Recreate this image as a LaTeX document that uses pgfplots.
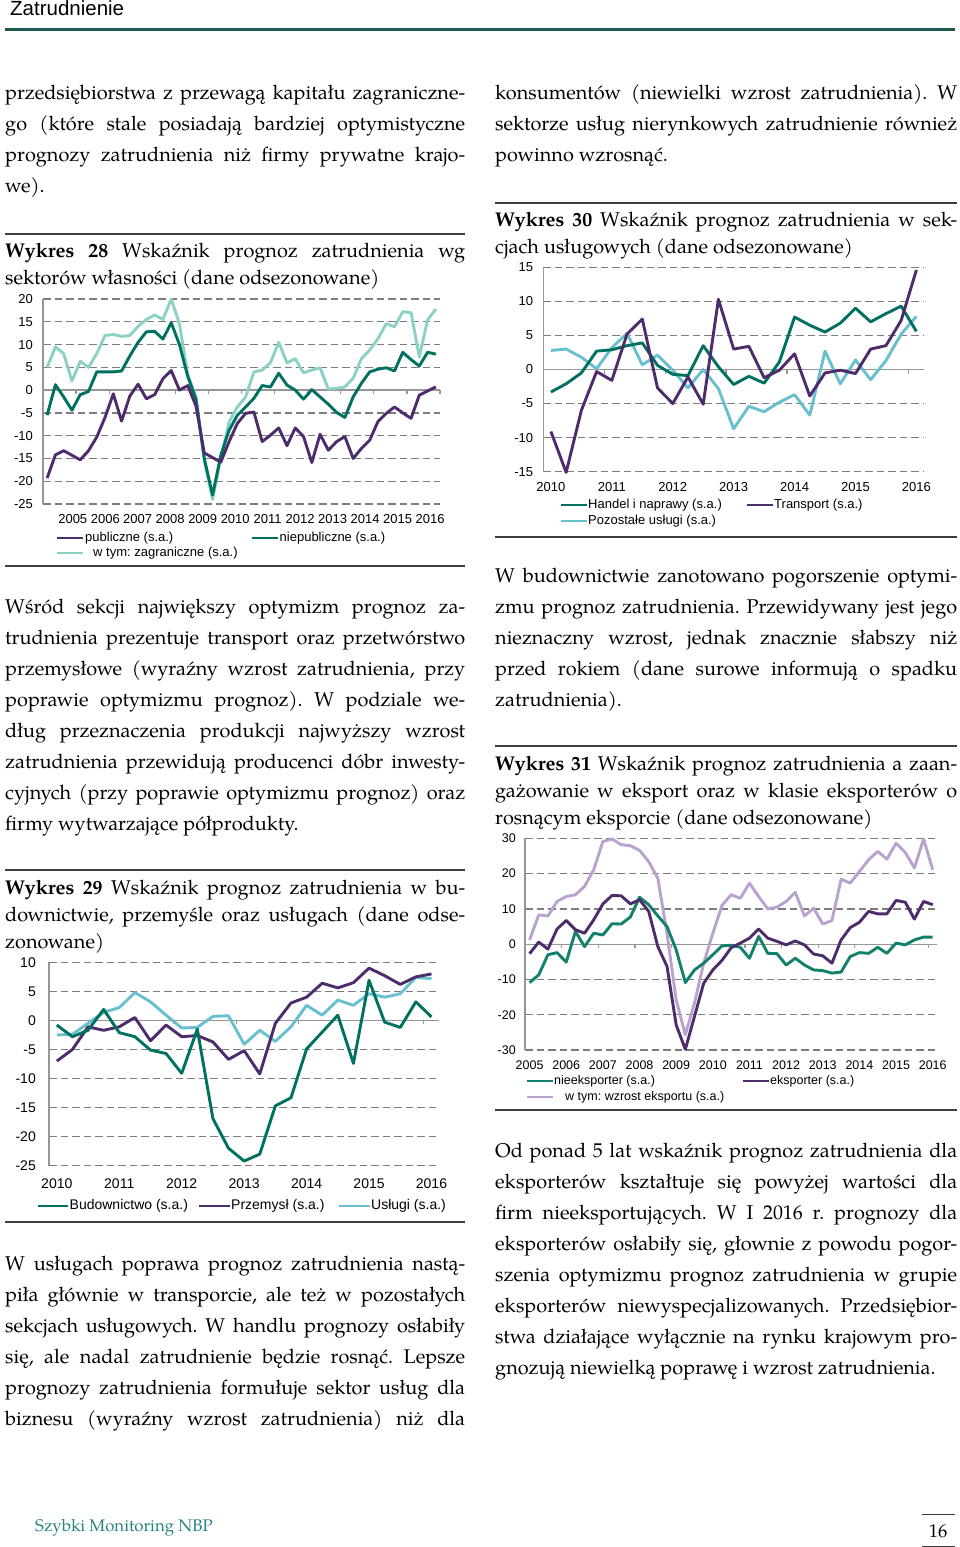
\documentclass[border=0pt]{standalone}
\usepackage{fontspec}
\setmainfont{TeX Gyre Pagella}
\newfontfamily\cf{Liberation Sans}
\usepackage{pgfplots}
\usepackage{pgfplotstable}
\pgfplotsset{compat=1.18}
\frenchspacing
\definecolor{cpur}{RGB}{78,44,108}
\definecolor{cteal}{RGB}{0,112,96}
\definecolor{cteal2}{RGB}{18,128,108}
\definecolor{cltl}{RGB}{140,210,196}
\definecolor{cblu}{RGB}{104,192,206}
\definecolor{clav}{RGB}{186,162,206}
\definecolor{cgrid}{RGB}{125,125,125}
\definecolor{caxis}{RGB}{150,150,150}
\definecolor{chead}{RGB}{28,90,82}
\definecolor{cfoot}{RGB}{40,130,130}
\definecolor{crule}{RGB}{60,60,60}

\newcommand{\bt}{\fontsize{19.9}{22}\selectfont\frenchspacing}
\newcommand{\JL}[4]{\node[anchor=base west,inner sep=0pt] at (#1pt,-#2pt) {\bt\makebox[#3pt][s]{#4}};}
\newcommand{\LL}[3]{\node[anchor=base west,inner sep=0pt] at (#1pt,-#2pt) {\bt #3};}
\newcommand{\LGL}[4]{\draw[#1,line width=2.4pt] (#2pt,-#4pt) -- (#3pt,-#4pt);}
\newcommand{\LGT}[4]{\node[anchor=west,inner sep=0pt] at (#1pt,-#2pt) {\cf\fontsize{#3}{#3}\selectfont #4};}

\pgfplotsset{
 pagechart/.style={
  scale only axis,
  axis line style={draw=none},
  major tick length=0pt,
  ymajorgrids,
  grid style={cgrid, line width=1.3pt, dash pattern=on 7.5pt off 4pt},
  yticklabel style={anchor=east, inner sep=0pt},
  xticklabel style={anchor=center, inner sep=0pt},
  clip=false,
  every axis plot/.append style={line width=2.9pt, line join=round, mark=none},
 }
}

\pgfplotstableread{
i pub niep zag
0 -19.3 -5.5 5.0
1 -14.2 1.2 9.5
2 -13.3 -1.5 8.0
3 -14.3 -4.4 2.0
4 -15.3 -1.0 6.3
5 -13.3 -0.3 5.0
6 -10.3 4.0 8.0
7 -6.0 4.0 12.0
8 -0.8 4.0 12.2
9 -6.8 4.2 11.8
10 -1.3 7.5 12.0
11 1.3 10.5 14.0
12 -1.9 12.8 15.5
13 -1.0 12.9 16.5
14 2.5 11.2 15.5
15 4.3 14.8 20.0
16 0.0 10.0 14.5
17 1.0 3.0 3.5
18 -3.5 -2.0 -1.5
19 -13.8 -15.0 -15.5
20 -14.8 -23.0 -24.0
21 -15.8 -14.3 -15.0
22 -11.3 -8.8 -7.0
23 -7.3 -5.5 -3.7
24 -5.1 -3.7 -1.5
25 -4.8 -1.8 4.0
26 -11.3 1.0 4.4
27 -9.9 0.7 6.0
28 -8.3 3.7 10.5
29 -12.2 1.1 6.0
30 -8.3 0.0 6.9
31 -10.2 -2.0 3.8
32 -15.9 0.1 4.4
33 -9.7 -1.5 4.9
34 -13.2 -3.1 0.2
35 -11.3 -4.9 0.4
36 -10.2 -6.0 0.7
37 -15.0 -1.5 2.6
38 -12.8 1.5 6.9
39 -11.0 4.0 8.8
40 -6.9 4.6 11.3
41 -5.1 4.9 14.6
42 -3.7 4.2 13.9
43 -5.0 8.3 17.2
44 -6.2 6.7 17.0
45 -1.1 5.3 7.3
46 -0.2 8.3 15.4
47 0.7 7.9 17.8
}\dA

\pgfplotstableread{
i bud prz usl
0 -0.8 -7.0 -2.5
1 -2.8 -5.0 -2.4
2 -1.7 -1.1 -0.5
3 1.9 -1.7 1.4
4 -2.1 -1.1 2.2
5 -2.8 0.5 4.8
6 -5.1 -3.5 3.2
7 -5.7 -0.8 0.9
8 -9.1 -2.8 -1.3
9 -1.5 -2.6 -1.2
10 -16.9 -3.7 0.7
11 -22.0 -6.7 0.8
12 -24.2 -5.2 -4.1
13 -23.0 -9.2 -1.7
14 -14.7 -0.5 -3.6
15 -13.3 3.0 -1.1
16 -4.9 4.0 2.6
17 -2.0 6.4 0.9
18 0.9 5.6 3.5
19 -7.4 6.5 2.6
20 6.9 9.0 4.6
21 -0.3 7.7 4.0
22 -1.2 6.2 4.6
23 3.2 7.5 7.4
24 0.6 8.0 7.2
}\dB

\pgfplotstableread{
i han tra poz
0 -3.3 -9.1 2.8
1 -2.1 -15.1 3.0
2 -0.5 -6.0 1.8
3 2.7 -0.3 0.1
4 2.9 -1.6 3.2
5 3.5 5.2 5.3
6 3.9 7.4 0.7
7 0.6 -2.7 2.1
8 -0.7 -5.0 -0.1
9 -0.9 -1.1 -2.7
10 3.5 -5.1 0.0
11 0.4 10.3 -2.8
12 -2.2 3.0 -8.7
13 -1.0 3.4 -5.4
14 -2.0 -1.2 -6.2
15 1.1 -0.1 -4.8
16 7.7 2.3 -3.7
17 6.5 -3.9 -6.7
18 5.5 -0.5 2.7
19 6.8 -0.1 -2.1
20 9.0 -0.6 1.4
21 7.0 3.0 -1.5
22 8.2 3.5 1.3
23 9.3 7.2 5.2
24 5.6 14.6 7.8
}\dC

\pgfplotstableread{
i nie eks wzr
0 -10.9 -2.7 1.2
1 -8.7 0.6 8.3
2 -3.0 -1.4 8.0
3 -2.4 4.3 12.1
4 -5.1 6.7 13.5
5 3.6 4.1 14.0
6 -0.7 3.1 16.4
7 3.1 6.9 21.1
8 2.6 11.4 29.1
9 5.8 13.8 29.8
10 5.7 13.7 28.2
11 7.7 11.4 27.9
12 13.3 12.6 26.6
13 11.2 9.3 23.4
14 8.0 -0.7 18.7
15 5.0 -6.3 3.0
16 -1.6 -22.9 -15.8
17 -10.9 -29.8 -25.7
18 -7.3 -20.5 -16.7
19 -5.4 -11.1 -5.4
20 -3.0 -7.3 3.1
21 -0.5 -4.6 11.0
22 -0.3 -1.0 14.0
23 -0.9 0.3 13.0
24 -4.0 1.7 17.3
25 2.2 4.3 13.5
26 -2.6 1.7 10.0
27 -2.7 0.8 10.5
28 -5.9 -0.2 12.1
29 -4.0 0.9 14.7
30 -5.9 -0.2 8.0
31 -7.3 -2.8 10.2
32 -7.5 -3.3 5.7
33 -8.2 -5.4 6.7
34 -7.9 1.2 18.4
35 -3.5 4.7 17.3
36 -2.4 6.2 20.6
37 -2.6 9.3 23.9
38 -0.9 8.6 26.3
39 -2.6 8.6 24.1
40 0.3 12.4 28.6
41 -0.2 11.9 26.0
42 1.2 7.1 21.6
43 2.0 12.1 29.8
44 2.0 11.2 21.1
}\dD

\begin{document}
\begin{tikzpicture}
\useasboundingbox (0pt,0pt) rectangle (960pt,-1547pt);
\fill[white] (0pt,0pt) rectangle (960pt,-1547pt);

% header
\node[anchor=base west,inner sep=0pt] at (10pt,-16pt) {\cf\fontsize{20.5}{22}\selectfont Zatrudnienie};
\draw[chead,line width=3pt] (5pt,-29pt) -- (955pt,-29pt);

% ---------------- left column ----------------
\JL{5}{99}{460}{przedsiębiorstwa z przewagą kapitału zagraniczne-}
\JL{5}{130}{460}{go (które stale posiadają bardziej optymistyczne}
\JL{5}{161}{460}{prognozy zatrudnienia niż firmy prywatne krajo-}
\LL{5}{192}{we).}

\draw[crule,line width=1.2pt] (5pt,-234pt) -- (465pt,-234pt);
\JL{5}{257}{460}{\textbf{Wykres 28} Wskaźnik prognoz zatrudnienia wg}
\LL{5}{284}{sektorów własności (dane odsezonowane)}

\begin{axis}[pagechart, at={(43pt,-504pt)}, anchor=south west, width=397pt, height=205pt,
 xmin=-0.5, xmax=47.5, ymin=-25, ymax=20,
 ytick={-25,-20,-15,-10,-5,0,5,10,15,20}, yticklabels={-25,-20,-15,-10,-5,0,5,10,15,20},
 xtick={3.1,7.03,10.95,14.88,18.81,22.74,26.66,30.59,34.52,38.44,42.37,46.3},
 xticklabels={2005,2006,2007,2008,2009,2010,2011,2012,2013,2014,2015,2016},
 tick label style={font=\cf\fontsize{13}{15}\selectfont},
 yticklabel style={xshift=-10pt}, xticklabel style={yshift=-15pt}]
\draw[caxis,line width=1.3pt] (axis cs:-0.5,0) -- (axis cs:47.5,0);
\draw[caxis,line width=1.3pt] (axis cs:-0.5,-25) -- (axis cs:-0.5,20);
\pgfplotsinvokeforeach{3.5,7.5,11.5,15.5,19.5,23.5,27.5,31.5,35.5,39.5,43.5,47.5}{\draw[caxis,line width=1.2pt] (axis cs:#1,0) -- ++(0pt,-4pt);}
\addplot[cltl] table[x=i,y=zag]{\dA};
\addplot[cteal] table[x=i,y=niep]{\dA};
\addplot[cpur] table[x=i,y=pub]{\dA};
\end{axis}
\LGL{cpur}{57}{83}{538}\LGT{85}{538}{13}{publiczne (s.a.)}
\LGL{cteal}{252}{278}{538}\LGT{279.5}{538}{13}{niepubliczne (s.a.)}
\LGL{cltl}{57}{83}{553}\LGT{93}{553}{13}{w tym: zagraniczne (s.a.)}
\draw[crule,line width=2pt] (5pt,-566pt) -- (465pt,-566pt);

\JL{5}{613}{460}{Wśród sekcji największy optymizm prognoz za-}
\JL{5}{644}{460}{trudnienia prezentuje transport oraz przetwórstwo}
\JL{5}{675}{460}{przemysłowe (wyraźny wzrost zatrudnienia, przy}
\JL{5}{706}{460}{poprawie optymizmu prognoz). W podziale we-}
\JL{5}{737}{460}{dług przeznaczenia produkcji najwyższy wzrost}
\JL{5}{768}{460}{zatrudnienia przewidują producenci dóbr inwesty-}
\JL{5}{799}{460}{cyjnych (przy poprawie optymizmu prognoz) oraz}
\LL{5}{830}{firmy wytwarzające półprodukty.}

\draw[crule,line width=1.2pt] (5pt,-870pt) -- (465pt,-870pt);
\JL{5}{894}{460}{\textbf{Wykres 29} Wskaźnik prognoz zatrudnienia w bu-}
\JL{5}{921}{460}{downictwie, przemyśle oraz usługach (dane odse-}
\LL{5}{948}{zonowane)}

\begin{axis}[pagechart, at={(49pt,-1165.7pt)}, anchor=south west, width=390.3pt, height=203.4pt,
 xmin=-0.5, xmax=24.5, ymin=-25, ymax=10,
 ytick={-25,-20,-15,-10,-5,0,5,10}, yticklabels={-25,-20,-15,-10,-5,0,5,10},
 xtick={0,4,8,12,16,20,24},
 xticklabels={2010,2011,2012,2013,2014,2015,2016},
 tick label style={font=\cf\fontsize{14}{16}\selectfont},
 yticklabel style={xshift=-13pt}, xticklabel style={yshift=-17.6pt}]
\draw[caxis,line width=1.3pt] (axis cs:-0.5,0) -- (axis cs:24.5,0);
\draw[caxis,line width=1.3pt] (axis cs:-0.5,-25) -- (axis cs:-0.5,10);
\pgfplotsinvokeforeach{3.5,7.5,11.5,15.5,19.5,23.5}{\draw[caxis,line width=1.2pt] (axis cs:#1,0) -- ++(0pt,-4pt);}
\addplot[cblu] table[x=i,y=usl]{\dB};
\addplot[cpur] table[x=i,y=prz]{\dB};
\addplot[cteal] table[x=i,y=bud]{\dB};
\end{axis}
\LGL{cteal}{38}{68}{1206}\LGT{69.5}{1206}{14}{Budownictwo (s.a.)}
\LGL{cpur}{199}{230}{1206}\LGT{231}{1206}{14}{Przemysł (s.a.)}
\LGL{cblu}{339}{370}{1206}\LGT{371}{1206}{14}{Usługi (s.a.)}
\draw[crule,line width=2pt] (5pt,-1222pt) -- (465pt,-1222pt);

\JL{5}{1270}{460}{W usługach poprawa prognoz zatrudnienia nastą-}
\JL{5}{1301}{460}{piła głównie w transporcie, ale też w pozostałych}
\JL{5}{1332}{460}{sekcjach usługowych. W handlu prognozy osłabiły}
\JL{5}{1363}{460}{się, ale nadal zatrudnienie będzie rosnąć. Lepsze}
\JL{5}{1394}{460}{prognozy zatrudnienia formułuje sektor usług dla}
\JL{5}{1425}{460}{biznesu (wyraźny wzrost zatrudnienia) niż dla}

% ---------------- right column ----------------
\JL{495}{99}{462}{konsumentów (niewielki wzrost zatrudnienia). W}
\JL{495}{130}{462}{sektorze usług nierynkowych zatrudnienie również}
\LL{495}{161}{powinno wzrosnąć.}

\draw[crule,line width=1.2pt] (495pt,-203pt) -- (957pt,-203pt);
\JL{495}{226}{462}{\textbf{Wykres 30} Wskaźnik prognoz zatrudnienia w sek-}
\LL{495}{253}{cjach usługowych (dane odsezonowane)}

\begin{axis}[pagechart, at={(543.3pt,-471.7pt)}, anchor=south west, width=380.7pt, height=204.4pt,
 xmin=-0.5, xmax=24.5, ymin=-15, ymax=15,
 ytick={-15,-10,-5,0,5,10,15}, yticklabels={-15,-10,-5,0,5,10,15},
 xtick={0,4,8,12,16,20,24},
 xticklabels={2010,2011,2012,2013,2014,2015,2016},
 tick label style={font=\cf\fontsize{13}{15}\selectfont},
 yticklabel style={xshift=-10pt}, xticklabel style={yshift=-15pt}]
\draw[caxis,line width=1.3pt] (axis cs:-0.5,0) -- (axis cs:24.5,0);
\draw[caxis,line width=1.3pt] (axis cs:-0.5,-15) -- (axis cs:-0.5,15);
\pgfplotsinvokeforeach{3.5,7.5,11.5,15.5,19.5,23.5}{\draw[caxis,line width=1.2pt] (axis cs:#1,0) -- ++(0pt,-4pt);}
\addplot[cblu] table[x=i,y=poz]{\dC};
\addplot[cteal] table[x=i,y=han]{\dC};
\addplot[cpur] table[x=i,y=tra]{\dC};
\end{axis}
\LGL{cteal}{561}{587}{505}\LGT{588}{505}{13}{Handel i naprawy (s.a.)}
\LGL{cpur}{747}{773}{505}\LGT{774}{505}{13}{Transport (s.a.)}
\LGL{cblu}{561}{587}{521}\LGT{588}{521}{13}{Pozostałe usługi (s.a.)}
\draw[crule,line width=2pt] (495pt,-537pt) -- (957pt,-537pt);

\JL{495}{582}{462}{W budownictwie zanotowano pogorszenie optymi-}
\JL{495}{613}{462}{zmu prognoz zatrudnienia. Przewidywany jest jego}
\JL{495}{644}{462}{nieznaczny wzrost, jednak znacznie słabszy niż}
\JL{495}{675}{462}{przed rokiem (dane surowe informują o spadku}
\LL{495}{706}{zatrudnienia).}

\draw[crule,line width=1.2pt] (495pt,-746pt) -- (957pt,-746pt);
\JL{495}{770}{462}{\textbf{Wykres 31} Wskaźnik prognoz zatrudnienia a zaan-}
\JL{495}{797}{462}{gażowanie w eksport oraz w klasie eksporterów o}
\LL{495}{824}{rosnącym eksporcie (dane odsezonowane)}

\begin{axis}[pagechart, at={(525pt,-1050pt)}, anchor=south west, width=412.3pt, height=211.7pt,
 xmin=-0.5, xmax=44.5, ymin=-30, ymax=30,
 ytick={-30,-20,-10,0,10,20,30}, yticklabels={-30,-20,-10,0,10,20,30},
 xtick={0,4,8,12,16,20,24,28,32,36,40,44},
 xticklabels={2005,2006,2007,2008,2009,2010,2011,2012,2013,2014,2015,2016},
 tick label style={font=\cf\fontsize{12.5}{14}\selectfont},
 yticklabel style={xshift=-9pt}, xticklabel style={yshift=-15pt}]
\draw[caxis,line width=1.3pt] (axis cs:-0.5,0) -- (axis cs:44.5,0);
\draw[caxis,line width=1.3pt] (axis cs:-0.5,-30) -- (axis cs:-0.5,30);
\pgfplotsinvokeforeach{3.5,7.5,11.5,15.5,19.5,23.5,27.5,31.5,35.5,39.5,43.5}{\draw[caxis,line width=1.2pt] (axis cs:#1,0) -- ++(0pt,-4pt);}
\addplot[clav] table[x=i,y=wzr]{\dD};
\addplot[cteal2] table[x=i,y=nie]{\dD};
\addplot[cpur] table[x=i,y=eks]{\dD};
\end{axis}
\LGL{cteal2}{527}{553}{1081}\LGT{554}{1081}{12.5}{nieeksporter (s.a.)}
\LGL{cpur}{743}{769}{1081}\LGT{770}{1081}{12.5}{eksporter (s.a.)}
\LGL{clav}{527}{553}{1097}\LGT{565}{1097}{12.5}{w tym: wzrost eksportu (s.a.)}
\draw[crule,line width=2pt] (495pt,-1110pt) -- (957pt,-1110pt);

\JL{495}{1157}{462}{Od ponad 5 lat wskaźnik prognoz zatrudnienia dla}
\JL{495}{1188}{462}{eksporterów kształtuje się powyżej wartości dla}
\JL{495}{1219}{462}{firm nieeksportujących. W I 2016 r. prognozy dla}
\JL{495}{1250}{462}{eksporterów osłabiły się, głownie z powodu pogor-}
\JL{495}{1281}{462}{szenia optymizmu prognoz zatrudnienia w grupie}
\JL{495}{1312}{462}{eksporterów niewyspecjalizowanych. Przedsiębior-}
\JL{495}{1343}{462}{stwa działające wyłącznie na rynku krajowym pro-}
\LL{495}{1374}{gnozują niewielką poprawę i wzrost zatrudnienia.}

% footer
\node[anchor=base west,inner sep=0pt,text=cfoot] at (35pt,-1531pt) {\fontsize{16.8}{18}\selectfont Szybki Monitoring NBP};
\draw[crule,line width=1pt] (922pt,-1514pt) -- (955pt,-1514pt);
\node[anchor=base,inner sep=0pt] at (938pt,-1537pt) {\fontsize{18.5}{20}\selectfont 16};
\draw[crule,line width=1pt] (922pt,-1546pt) -- (955pt,-1546pt);
\end{tikzpicture}
\end{document}
